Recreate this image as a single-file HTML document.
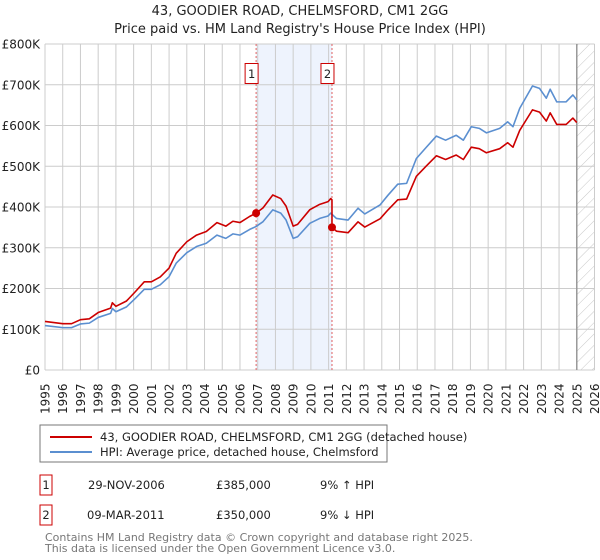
<!DOCTYPE html>
<html><head><meta charset="utf-8">
<style>
body{margin:0;background:#fff;width:600px;height:560px;overflow:hidden;font-family:"DejaVu Sans","Liberation Sans",sans-serif;}
svg{display:block}
</style></head>
<body>
<svg id="chart" width="600" height="560" xmlns="http://www.w3.org/2000/svg" font-family="DejaVu Sans, Liberation Sans, sans-serif">
<defs>
<pattern id="hatch" patternUnits="userSpaceOnUse" width="8" height="8" patternTransform="rotate(45)">
<line x1="0" y1="0" x2="0" y2="8" stroke="#c8c8c8" stroke-width="1"/>
</pattern>
</defs>
<text x="300" y="15" text-anchor="middle" font-size="13" fill="#222">43, GOODIER ROAD, CHELMSFORD, CM1 2GG</text>
<text x="300" y="33" text-anchor="middle" font-size="13" fill="#222">Price paid vs. HM Land Registry's House Price Index (HPI)</text>
<g id="plot"></g>
<g>
<rect x="40" y="425" width="347" height="37" fill="#fff" stroke="#777" stroke-width="1"/>
<line x1="50" y1="437" x2="92" y2="437" stroke="#cc0000" stroke-width="2"/>
<text x="100" y="441" font-size="11.5" fill="#222">43, GOODIER ROAD, CHELMSFORD, CM1 2GG (detached house)</text>
<line x1="50" y1="452" x2="92" y2="452" stroke="#5b8fd0" stroke-width="2"/>
<text x="100" y="456" font-size="11.5" fill="#222">HPI: Average price, detached house, Chelmsford</text>
</g>
<g font-size="11.5" fill="#222">
<rect x="40" y="475" width="12" height="20" fill="#fff" stroke="#cc0000"/>
<text x="46" y="489" text-anchor="middle">1</text>
<text x="88" y="489">29-NOV-2006</text>
<text x="216" y="489">£385,000</text>
<text x="320" y="489">9% ↑ HPI</text>
<rect x="40" y="505" width="12" height="20" fill="#fff" stroke="#cc0000"/>
<text x="46" y="519" text-anchor="middle">2</text>
<text x="87" y="519">09-MAR-2011</text>
<text x="216" y="519">£350,000</text>
<text x="320" y="519">9% ↓ HPI</text>
</g>
<text x="45" y="541" font-size="11" fill="#777">Contains HM Land Registry data © Crown copyright and database right 2025.</text>
<text x="45" y="552" font-size="11" fill="#777">This data is licensed under the Open Government Licence v3.0.</text>
</svg>
<script>
const yearTicks = [1995,1996,1997,1998,1999,2000,2001,2002,2003,2004,2005,2006,2007,2008,2009,2010,2011,2012,2013,2014,2015,2016,2017,2018,2019,2020,2021,2022,2023,2024,2025,2026];
const valueTicks = [0,100,200,300,400,500,600,700,800];
const valueTickLabels = ["£0","£100K","£200K","£300K","£400K","£500K","£600K","£700K","£800K"];
const hpiYears = [1995.0,1996.0,1996.5,1997.0,1997.5,1998.0,1998.7,1998.8,1999.0,1999.6,2000.1,2000.6,2001.0,2001.5,2002.0,2002.4,2003.0,2003.55,2004.1,2004.7,2005.2,2005.6,2006.0,2006.55,2006.9,2007.3,2007.85,2008.3,2008.6,2009.0,2009.25,2009.94,2010.5,2010.97,2011.12,2011.44,2012.1,2012.66,2013.04,2013.9,2014.35,2014.9,2015.4,2015.95,2016.5,2017.08,2017.6,2018.2,2018.6,2019.05,2019.5,2019.9,2020.65,2021.1,2021.4,2021.78,2022.5,2022.9,2023.28,2023.5,2023.87,2024.4,2024.78,2025.0];
const hpiValues = [109,104,104,113,115,129,139,151,143,155,176,198,198,209,229,262,288,303,311,331,323,334,331,345,352,364,393,385,368,323,327,360,372,378,385,372,368,397,383,405,429,456,458,519,546,574,564,576,564,597,593,582,593,609,597,642,697,691,667,689,658,658,675,663];
const saleYears = [2006.91,2011.19];
const salePrices = [385,350];
const saleLabels = ["1","2"];

const X0=45,X1=594.5,Y0=370,Y1=44;
const xs=y=>X0+(y-1995)/(2026-1995)*(X1-X0);
const ys=v=>Y0-v/800*(Y0-Y1);
const NS="http://www.w3.org/2000/svg";
const plot=document.getElementById('plot');
function mk(tag,attrs,parent){const e=document.createElementNS(NS,tag);for(const k in attrs)e.setAttribute(k,attrs[k]);(parent||plot).appendChild(e);return e;}
function hpiAt(t){for(let i=0;i<hpiYears.length-1;i++){if(t>=hpiYears[i]&&t<=hpiYears[i+1]){const f=(t-hpiYears[i])/(hpiYears[i+1]-hpiYears[i]);return hpiValues[i]+f*(hpiValues[i+1]-hpiValues[i]);}}return hpiValues[hpiValues.length-1];}

// shaded ownership band
const band=mk('rect',{x:xs(saleYears[0]),y:Y1,width:xs(saleYears[1])-xs(saleYears[0]),height:Y0-Y1,fill:'#eef3fd'});


// hatched future
const hatch=mk('rect',{x:xs(2025),y:Y1,width:X1-xs(2025),height:Y0-Y1,fill:'url(#hatch)'});


// gridlines
yearTicks.forEach(y=>{const l=mk('line',{x1:xs(y),x2:xs(y),y1:Y1,y2:Y0,stroke:'#cccccc','stroke-width':1});


const t=mk('text',{x:0,y:0,transform:`translate(${xs(y)+4.5},414) rotate(-90)`,'font-size':12,fill:'#222'});t.textContent=y;

});
valueTicks.forEach((v,i)=>{const l=mk('line',{x1:X0,x2:X1,y1:ys(v),y2:ys(v),stroke:'#cccccc','stroke-width':1});


const t=mk('text',{x:40,y:ys(v)+4.5,'text-anchor':'end','font-size':12,fill:'#222'});t.textContent=valueTickLabels[i];

});
const fl=mk('line',{x1:xs(2025),x2:xs(2025),y1:Y1,y2:Y0,stroke:'#999',"stroke-width":1.5});


// sale lines
saleYears.forEach((s,i)=>{const l=mk('line',{x1:xs(s),x2:xs(s),y1:Y1,y2:Y0,stroke:'#e06060','stroke-width':1,'stroke-dasharray':'2,2'});


const r=mk('rect',{x:xs(s)-11,y:63.5,width:13,height:20,fill:'#fff',stroke:'#cc0000'});


const t=mk('text',{x:xs(s)-4.5,y:78,'text-anchor':'middle','font-size':11.5,fill:'#222'});t.textContent=saleLabels[i];

});
// HPI line
const hp=mk('polyline',{points:hpiYears.map((y,i)=>xs(y)+','+ys(hpiValues[i])).join(' '),fill:'none',stroke:'#5b8fd0','stroke-width':1.6,'stroke-linejoin':'round'});


// property line: indexed from sale prices
const r1=salePrices[0]/hpiAt(saleYears[0]),r2=salePrices[1]/hpiAt(saleYears[1]);
const pts=[];
hpiYears.forEach((y,i)=>{if(y<saleYears[1])pts.push([y,hpiValues[i]*r1]);});
pts.push([saleYears[1],hpiAt(saleYears[1])*r1]);
pts.push([saleYears[1],salePrices[1]]);
hpiYears.forEach((y,i)=>{if(y>saleYears[1])pts.push([y,hpiValues[i]*r2]);});
const pl=mk('polyline',{points:pts.map(p=>xs(p[0])+','+ys(p[1])).join(' '),fill:'none',stroke:'#cc0000','stroke-width':1.6,'stroke-linejoin':'round'});


saleYears.forEach((s,i)=>{const c=mk('circle',{cx:xs(s),cy:ys(salePrices[i]),r:4,fill:'#cc0000'});

});
</script>
</body></html>
